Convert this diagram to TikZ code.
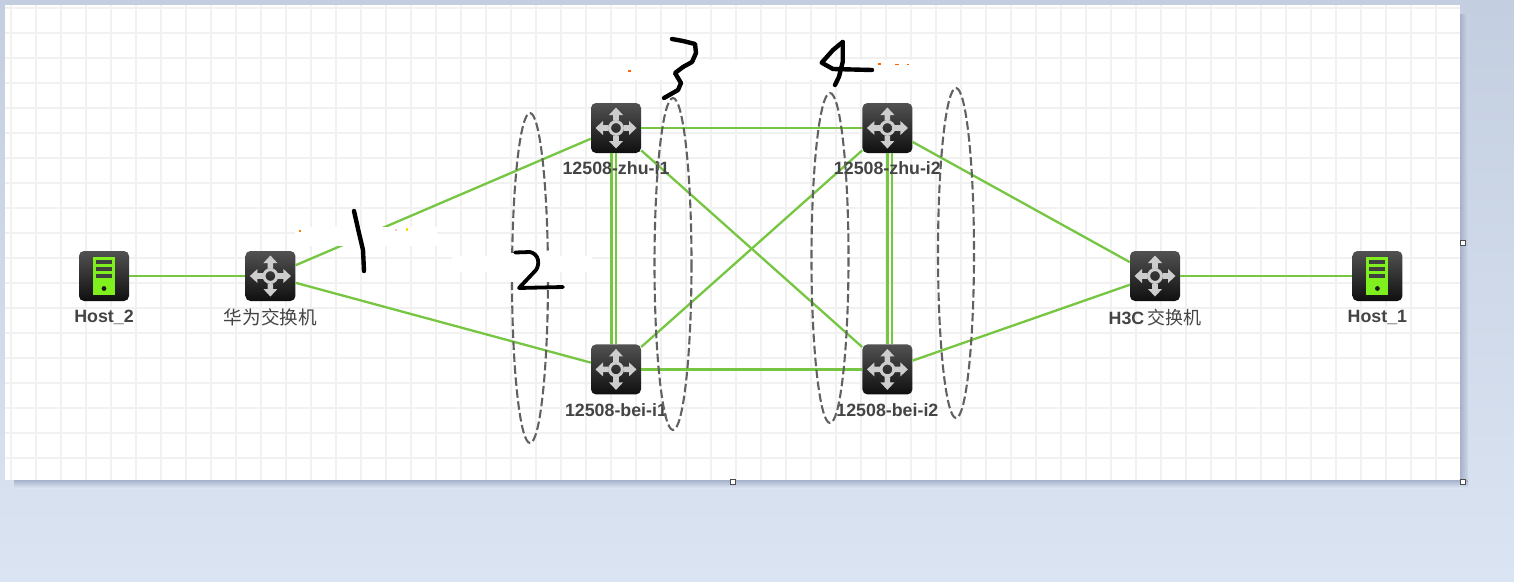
\documentclass[tikz,border=0pt]{standalone}
\usepackage{fontspec}
\setmainfont{Liberation Sans}
\newfontfamily\cjkfont{Noto Sans CJK SC}
\usepackage{tikz}
\usetikzlibrary{positioning}
\definecolor{pagetop}{HTML}{C3CEE0}
\definecolor{pagebot}{HTML}{DBE4F2}
\definecolor{shadowdark}{HTML}{A5B2C9}
\definecolor{gridgray}{HTML}{F1F1F1}
\definecolor{linkgreen}{HTML}{76C642}
\definecolor{hostgreen}{HTML}{7FF01E}
\definecolor{glyphgray}{HTML}{CDCDCD}
\definecolor{labelgray}{HTML}{444444}
\tikzset{
    %Define style for icons
    iconbox/.style={
           rectangle,
           rounded corners=5pt,
           inner sep=0pt,
           minimum width=50pt,
           minimum height=50pt,
           top color=black!68!white,
           bottom color=black!94!white,
           },
    %Define style for labels
    iconlabel/.style={
           inner sep=0pt,
           text=labelgray,
           text height=13pt,
           text depth=4pt,
           font=\fontsize{17.8pt}{20pt}\selectfont\bfseries,
           },
    % Define line styles
    link/.style={
           draw=linkgreen,
           line width=2.3pt,
           },
    gridline/.style={
           draw=gridgray,
           line width=2.6pt,
           },
    ring/.style={
           draw=black!62!white,
           line width=2.1pt,
           dash pattern=on 8.5pt off 3.5pt,
           },
    ink/.style={
           draw=black,
           line width=4.4pt,
           line cap=round,
           line join=round,
           },
    handle/.style={
           rectangle,
           draw=black!70!white,
           fill=white,
           line width=.8pt,
           inner sep=0pt,
           minimum width=5pt,
           minimum height=5pt,
           },
    % Define icon glyphs
    switchglyph/.pic={
       \draw[glyphgray,line width=3pt] (0,0) circle (6.4);
       \foreach \a in {0,90,180,270}{
         \fill[glyphgray,rotate=\a] (7.5,-2.8) -- (13,-2.8) -- (13,-7)
           -- (20.5,0) -- (13,7) -- (13,2.8) -- (7.5,2.8) -- cycle;
       }
    },
    hostglyph/.pic={
       \fill[hostgreen] (-11,-19) rectangle (11,19);
       \foreach \b in {-16,-9,-2}{
         \fill[black!75!white] (-8,\b) rectangle (8,\b+4);
       }
       \fill[black!90!white] (0,12.5) circle (2.4);
    }
}
\begin{document}
\begin{tikzpicture}[x=1pt,y=-1pt]
\useasboundingbox (0,0) rectangle (1514,581);

 %page and canvas
\shade[top color=pagetop,bottom color=pagebot] (0,0) rectangle (1514,581);
\shade[left color=shadowdark,right color=pagetop!60!pagebot] (1460,14) rectangle (1468,488);
\shade[top color=shadowdark,bottom color=pagebot] (14,480) rectangle (1468,488);
\fill[white] (5,5) rectangle (1460,480);
\foreach \gx in {11,36,...,1436}
  \draw[gridline] (\gx,5) -- (\gx,480);
\foreach \gy in {8,33,...,458}
  \draw[gridline] (5,\gy) -- (1460,\gy);

 %nodes
\node[iconbox](host2) at (104,276){};
\node[iconbox, right=116pt of host2](hua){};
\node[iconbox](zhu1) at (616,128){};
\node[iconbox, below=191pt of zhu1](bei1){};
\node[iconbox, right=221pt of zhu1](zhu2){};
\node[iconbox, right=221pt of bei1](bei2){};
\node[iconbox](h3c) at (1155,276){};
\node[iconbox, right=172pt of h3c](host1){};

\foreach \n in {hua,zhu1,bei1,zhu2,bei2,h3c}
  \pic at (\n) {switchglyph};
\foreach \n in {host1,host2}
  \pic at (\n) {hostglyph};

 %links
\path[link]
    (host2) edge (hua)
    (hua) edge (zhu1)
    (hua) edge (bei1)
    (zhu1) edge (zhu2)
    (bei1) edge (bei2)
    (zhu1) edge (bei2)
    (bei1) edge (zhu2)
    (zhu2) edge (h3c)
    (bei2) edge (h3c)
    (h3c) edge (host1);
\draw[link] ([xshift=-4.5pt]zhu1.south) -- ([xshift=-4.5pt]bei1.north);
\draw[link] ([xshift=.2pt]zhu1.south) -- ([xshift=.2pt]bei1.north);
\draw[link] ([xshift=.2pt]zhu2.south) -- ([xshift=.2pt]bei2.north);
\draw[link] ([xshift=4.5pt]zhu2.south) -- ([xshift=4.5pt]bei2.north);

 %labels
\node[iconlabel, below=8.5pt of host2](host2label){Host\_2};
\node[iconlabel, below=10pt of hua](hualabel){\cjkfont\mdseries\fontsize{18.6pt}{20pt}\selectfont 华为交换机};
\node[iconlabel, below=8.5pt of zhu1](zhu1label){12508-zhu-i1};
\node[iconlabel, below=8.5pt of bei1](bei1label){12508-bei-i1};
\node[iconlabel, below=8.5pt of zhu2](zhu2label){12508-zhu-i2};
\node[iconlabel, below=8.5pt of bei2](bei2label){12508-bei-i2};
\node[iconlabel, below=10pt of h3c](h3clabel){H3C\,{\cjkfont\mdseries\fontsize{18pt}{20pt}\selectfont 交换机}};
\node[iconlabel, below=8.5pt of host1](host1label){Host\_1};

 %rings
\draw[ring] (530,278) ellipse (18 and 165);
\draw[ring] (673,264) ellipse (18.5 and 166);
\draw[ring] (830,258) ellipse (18.5 and 165);
\draw[ring] (956,253) ellipse (18 and 165);

 %rubbed out parts
\fill[white] (295,227) rectangle (437,246);
\fill[white] (452,256) rectangle (592,272);
\fill[white] (505,253) rectangle (555,282);
\fill[white] (610,60) rectangle (933,80);
\fill[orange!80!red] (627.5,70) rectangle (631,72);
\fill[orange!80!red] (878,63) rectangle (881,64.5);
\fill[orange!80!red] (895,63.5) rectangle (899,65);
\fill[orange!80!red] (907,63.5) rectangle (909,65);
\fill[orange] (299,230) rectangle (300.5,232);
\fill[pink] (395,229) rectangle (396.5,231);
\fill[yellow!80!orange] (406,228) rectangle (407.5,231);

 %hand written numbers
\draw[ink] (354,211) -- (359,233) -- (363,250) -- (364,271);
\draw[ink,line width=3.8pt] (515,252.5) -- (530,252) .. controls (539,254) and (540,264) .. (536,270) -- (519,288) -- (563,287);
\draw[ink] (672,39) -- (683,41) -- (695,44) -- (696,53) -- (692,62) -- (683,67) -- (675,73) -- (681,83) -- (678,90) -- (664,98);
\draw[ink] (842.7,42) -- (833,50) -- (821.7,62.7) -- (833,69) -- (872,70);
\draw[ink] (842.7,42) -- (842.7,62) -- (839,76.7) -- (835,85);

 %selection handles
\node[handle](handleright) at (1462.5,243){};
\node[handle](handlebottom) at (733,482){};
\node[handle](handlecorner) at (1462.5,482){};

\end{tikzpicture}
\end{document}
